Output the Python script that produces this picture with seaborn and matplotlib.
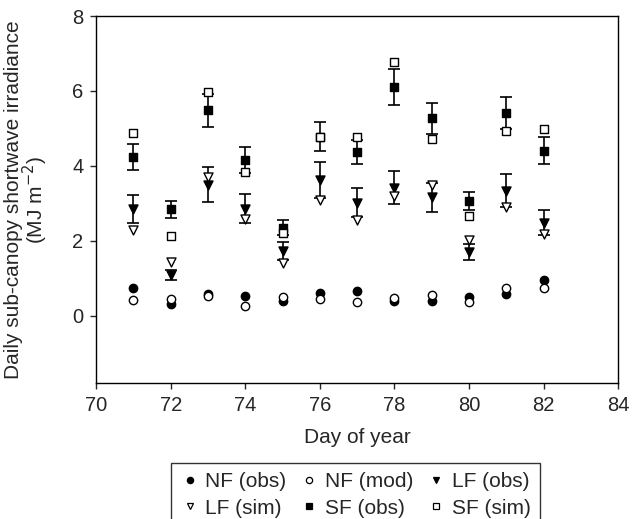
import matplotlib
matplotlib.use("Agg")
import matplotlib.pyplot as plt
import seaborn as sns
import pandas as pd

# data
days = [71, 72, 73, 74, 75, 76, 77, 78, 79, 80, 81, 82]
nf_obs = [0.75, 0.31, 0.58, 0.52, 0.40, 0.60, 0.66, 0.40, 0.40, 0.49, 0.58, 0.95]
nf_mod = [0.41, 0.44, 0.52, 0.26, 0.51, 0.44, 0.37, 0.48, 0.54, 0.37, 0.73, 0.75]
lf_obs = [2.84, 1.09, 3.50, 2.86, 1.73, 3.62, 3.02, 3.42, 3.16, 1.69, 3.34, 2.48]
lf_err = [0.37, 0.14, 0.46, 0.38, 0.24, 0.49, 0.39, 0.44, 0.38, 0.21, 0.44, 0.34]
lf_sim = [2.29, 1.44, 3.71, 2.57, 1.40, 3.09, 2.55, 3.20, 3.50, 2.02, 2.89, 2.17]
sf_obs = [4.24, 2.84, 5.48, 4.15, 2.35, 4.78, 4.37, 6.10, 5.27, 3.06, 5.42, 4.41]
sf_err = [0.34, 0.22, 0.44, 0.35, 0.20, 0.39, 0.33, 0.48, 0.42, 0.25, 0.43, 0.35]
sf_sim = [4.89, 2.13, 5.98, 3.83, 2.20, 4.77, 4.76, 6.77, 4.71, 2.66, 4.93, 4.98]

sns.set_style("ticks")
plt.rcParams['font.family'] = ['Liberation Sans', 'DejaVu Sans']

fig = plt.figure(figsize=(6.32, 5.19), dpi=100)
ax = fig.add_axes([0.152, 0.262, 0.826, 0.707])

# error bars first, markers on top
ax.errorbar(days, lf_obs, yerr=lf_err, fmt='none', ecolor='black', elinewidth=1.2, capsize=4, capthick=1.2, zorder=1)
ax.errorbar(days, sf_obs, yerr=sf_err, fmt='none', ecolor='black', elinewidth=1.2, capsize=4, capthick=1.2, zorder=1)

series = [
    ('NF (obs)', nf_obs, 'o', 'black', 36),
    ('NF (mod)', nf_mod, 'o', 'white', 36),
    ('LF (obs)', lf_obs, 'v', 'black', 42),
    ('LF (sim)', lf_sim, 'v', 'white', 42),
    ('SF (obs)', sf_obs, 's', 'black', 32),
    ('SF (sim)', sf_sim, 's', 'white', 32),
]
handles = {}
for name, vals, mk, fc, sz in series:
    df = pd.DataFrame({'day': days, 'val': vals})
    sns.scatterplot(data=df, x='day', y='val', marker=mk, s=sz, color=fc,
                    edgecolor='black', linewidth=1.0, ax=ax, zorder=3)
    handles[name] = plt.Line2D([], [], ls='none', marker=mk, markersize=4.5,
                               markerfacecolor=fc, markeredgecolor='black', markeredgewidth=0.9)

ax.set_xlim(70, 84)
ax.set_ylim(-1.8, 8)
ax.set_xticks(range(70, 85, 2))
ax.set_yticks([0, 2, 4, 6, 8])
ax.tick_params(labelsize=14.5, length=4, width=1, pad=5, direction='out', top=False, right=False)
for sp in ax.spines.values():
    sp.set_linewidth(1.0)
    sp.set_color('black')
ax.set_xlabel('Day of year', fontsize=15, labelpad=10)
ax.set_ylabel('Daily sub-canopy shortwave irradiance\n(MJ m$^{-2}$)', fontsize=15,
              linespacing=0.9)
ax.yaxis.set_label_coords(-0.088, 0.5)

order = ['NF (obs)', 'LF (sim)', 'NF (mod)', 'SF (obs)', 'LF (obs)', 'SF (sim)']
leg = fig.legend([handles[k] for k in order], order, ncol=3, loc='upper center',
                 bbox_to_anchor=(0.5625, 0.108), fontsize=15, frameon=True, fancybox=False,
                 edgecolor='black', handletextpad=0.3, columnspacing=0.65, handlelength=0.9,
                 borderpad=0.45, labelspacing=0.35, borderaxespad=0)
leg.get_frame().set_linewidth(1.0)

fig.savefig('out.png', dpi=100)
